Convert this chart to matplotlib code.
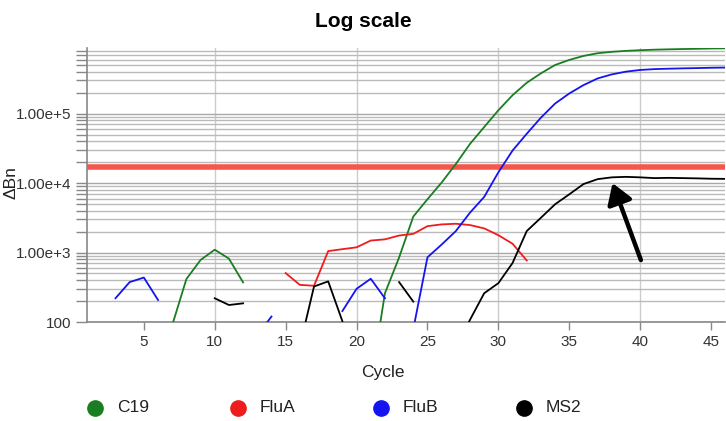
import matplotlib
matplotlib.use("Agg")
import matplotlib.pyplot as plt
from matplotlib.lines import Line2D
import numpy as np

plt.rcParams['font.family'] = ['Liberation Sans', 'DejaVu Sans']

nan = np.nan
CYCLES = np.arange(1, 47)

# delta Rn per cycle, nan where the instrument drew nothing
C19 = [nan, nan, nan, nan, nan, nan, 90, 416, 783, 1100,
       818, 372, nan, nan, nan, nan, nan, nan, nan, nan,
       13, 260, 850, 3300, 5860, 10200, 18800, 36700, 64100, 111700,
       184000, 278000, 380000, 501000, 593000, 676000, 740000, 775000, 800000, 818000,
       832000, 842000, 850000, 857000, 865000, 870000]
FLUA = [nan, nan, nan, nan, nan, nan, nan, nan, nan, nan,
        nan, nan, nan, nan, 507, 343, 333, 1050, 1120, 1190,
        1490, 1550, 1760, 1860, 2400, 2545, 2600, 2490, 2230, 1780,
        1340, 770, nan, nan, nan, nan, nan, nan, nan, nan,
        nan, nan, nan, nan, nan, nan]
FLUB = [nan, nan, 220, 376, 437, 208, nan, nan, nan, nan,
        nan, nan, 65, 120, nan, nan, nan, nan, 144, 301,
        420, 220, nan, 79, 855, 1305, 2040, 3760, 6330, 14300,
        29400, 51300, 87500, 139600, 195000, 257000, 321000, 367000, 402000, 425000,
        437000, 443000, 448000, 452000, 457000, 460000]
MS2 = [nan, nan, nan, nan, nan, nan, nan, nan, nan, 220,
       176, 186, nan, nan, nan, 45, 325, 385, 103, nan,
       nan, nan, 376, 197, nan, nan, 40, 108, 260, 363,
       708, 2040, 3170, 4960, 6900, 9680, 11400, 12100, 12300, 12100,
       11800, 11900, 11800, 11700, 11560, 11500]

SERIES = {'C19': C19, 'FluA': FLUA, 'FluB': FLUB, 'MS2': MS2}
COLORS = {'C19': '#1b7d22', 'FluA': '#ee1c1c', 'FluB': '#1414f0', 'MS2': '#000000'}

THRESHOLD = 17000
Y_TICKS = [100, 1e3, 1e4, 1e5]
Y_LABELS = ['100', '1.00e+3', '1.00e+4', '1.00e+5']
X_TICKS = [5, 10, 15, 20, 25, 30, 35, 40, 45]


def main():
    fig = plt.figure(figsize=(7.26, 4.21), dpi=100)
    ax = fig.add_axes([0.12, 0.235, 0.879, 0.651])

    ax.set_yscale('log')
    ax.set_xlim(1, 46)
    ax.set_ylim(100, 8.8e5)

    ax.grid(which='major', axis='y', color='#a8a8a8', lw=1)
    ax.grid(which='minor', axis='y', color='#bababa', lw=1)
    for xv in [10, 20, 30, 40]:
        ax.axvline(xv, color='#cccccc', lw=1, zorder=0)
    ax.set_axisbelow(True)

    ax.axhline(THRESHOLD, color='#f5574c', lw=4, zorder=2)

    for name, values in SERIES.items():
        ax.plot(CYCLES, values, color=COLORS[name], lw=1.3, zorder=3)

    # arrow pointing at the MS2 plateau
    ax.annotate('', xy=(38.05, 10000), xytext=(40.05, 780),
                arrowprops=dict(arrowstyle='-|>,head_length=0.55,head_width=0.35',
                                lw=3.2, color='black', mutation_scale=22,
                                shrinkA=0, shrinkB=0),
                zorder=4)

    ax.set_yticks(Y_TICKS)
    ax.set_yticklabels(Y_LABELS)
    ax.set_xticks(X_TICKS)
    ax.tick_params(axis='both', which='both', colors='#888888', labelcolor='#333333',
                   labelsize=11)
    ax.tick_params(axis='y', which='major', length=8, width=1)
    ax.tick_params(axis='y', which='minor', length=8, width=1)
    ax.tick_params(axis='x', length=6, width=1)

    for side in ['top', 'right']:
        ax.spines[side].set_visible(False)
    for side in ['left', 'bottom']:
        ax.spines[side].set_color('#888888')
        ax.spines[side].set_linewidth(1.2)

    ax.set_xlabel('Cycle', fontsize=12.5, color='#222222')
    ax.xaxis.set_label_coords(0.464, -0.155)
    ax.set_ylabel('\u0394Bn', fontsize=12.5, color='#222222')
    ax.yaxis.set_label_coords(-0.108, 0.51)
    fig.text(0.5, 0.95, 'Log scale', ha='center', va='center',
             fontsize=15, fontweight='bold')

    # legend row under the axis
    for i, name in enumerate(SERIES):
        x0 = (95 + 143 * i) / 726
        y0 = 1 - 408 / 421
        fig.add_artist(Line2D([x0], [y0], marker='o', markersize=11, ls='none',
                              color=COLORS[name], transform=fig.transFigure))
        fig.text(x0 + 22 / 726, y0, name, fontsize=12.5, va='center', color='#222222')

    fig.savefig('out.png', dpi=100, facecolor='white')


if __name__ == "__main__":
    main()
